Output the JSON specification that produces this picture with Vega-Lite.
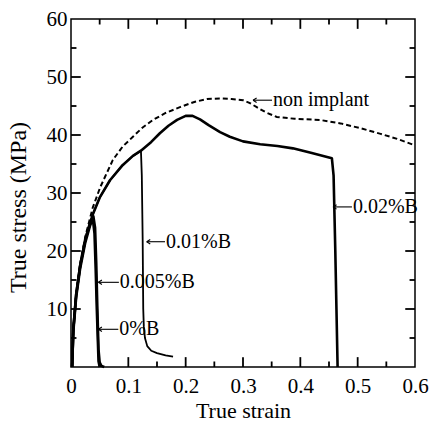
{
  "$schema": "https://vega.github.io/schema/vega-lite/v6.json",
  "width": 344,
  "height": 348,
  "autosize": {"type": "none"},
  "padding": {"left": 71, "top": 19, "right": 18, "bottom": 55},
  "config": {
    "view": {"stroke": "black", "strokeWidth": 1.5},
    "font": "Liberation Serif",
    "axis": {"grid": false, "labelFontSize": 21, "titleFontSize": 22, "titleFontWeight": "normal", "labelColor": "black", "titleColor": "black"}
  },
  "datasets": {
    "curves": [
      {"series": "non implant", "strain": 0.002, "stress": 0},
      {"series": "non implant", "strain": 0.004, "stress": 6.5},
      {"series": "non implant", "strain": 0.009, "stress": 12.5},
      {"series": "non implant", "strain": 0.016, "stress": 17.8},
      {"series": "non implant", "strain": 0.025, "stress": 22.5},
      {"series": "non implant", "strain": 0.038, "stress": 27.5},
      {"series": "non implant", "strain": 0.051, "stress": 31},
      {"series": "non implant", "strain": 0.073, "stress": 35.7},
      {"series": "non implant", "strain": 0.09, "stress": 38},
      {"series": "non implant", "strain": 0.108, "stress": 39.7},
      {"series": "non implant", "strain": 0.125, "stress": 41.3},
      {"series": "non implant", "strain": 0.143, "stress": 42.6},
      {"series": "non implant", "strain": 0.165, "stress": 43.8},
      {"series": "non implant", "strain": 0.19, "stress": 44.8},
      {"series": "non implant", "strain": 0.215, "stress": 45.7},
      {"series": "non implant", "strain": 0.237, "stress": 46.2},
      {"series": "non implant", "strain": 0.26, "stress": 46.3},
      {"series": "non implant", "strain": 0.28, "stress": 46.2},
      {"series": "non implant", "strain": 0.3, "stress": 46},
      {"series": "non implant", "strain": 0.312, "stress": 45.5},
      {"series": "non implant", "strain": 0.324, "stress": 44.8},
      {"series": "non implant", "strain": 0.34, "stress": 43.9},
      {"series": "non implant", "strain": 0.359, "stress": 43.1},
      {"series": "non implant", "strain": 0.39, "stress": 42.8},
      {"series": "non implant", "strain": 0.434, "stress": 42.6},
      {"series": "non implant", "strain": 0.47, "stress": 42},
      {"series": "non implant", "strain": 0.504, "stress": 41.2},
      {"series": "non implant", "strain": 0.54, "stress": 40.2},
      {"series": "non implant", "strain": 0.57, "stress": 39.3},
      {"series": "non implant", "strain": 0.6, "stress": 38.2},

      {"series": "0.02%B", "strain": 0.002, "stress": 0},
      {"series": "0.02%B", "strain": 0.004, "stress": 6.5},
      {"series": "0.02%B", "strain": 0.009, "stress": 12.5},
      {"series": "0.02%B", "strain": 0.016, "stress": 17.5},
      {"series": "0.02%B", "strain": 0.025, "stress": 22},
      {"series": "0.02%B", "strain": 0.038, "stress": 26.3},
      {"series": "0.02%B", "strain": 0.05, "stress": 29.2},
      {"series": "0.02%B", "strain": 0.068, "stress": 32.2},
      {"series": "0.02%B", "strain": 0.09, "stress": 34.8},
      {"series": "0.02%B", "strain": 0.108, "stress": 36.4},
      {"series": "0.02%B", "strain": 0.122, "stress": 37.3},
      {"series": "0.02%B", "strain": 0.14, "stress": 38.8},
      {"series": "0.02%B", "strain": 0.155, "stress": 40.3},
      {"series": "0.02%B", "strain": 0.17, "stress": 41.6},
      {"series": "0.02%B", "strain": 0.185, "stress": 42.6},
      {"series": "0.02%B", "strain": 0.2, "stress": 43.3},
      {"series": "0.02%B", "strain": 0.212, "stress": 43.3},
      {"series": "0.02%B", "strain": 0.225, "stress": 42.7},
      {"series": "0.02%B", "strain": 0.24, "stress": 41.7},
      {"series": "0.02%B", "strain": 0.26, "stress": 40.5},
      {"series": "0.02%B", "strain": 0.277, "stress": 39.7},
      {"series": "0.02%B", "strain": 0.3, "stress": 38.9},
      {"series": "0.02%B", "strain": 0.33, "stress": 38.4},
      {"series": "0.02%B", "strain": 0.36, "stress": 38.1},
      {"series": "0.02%B", "strain": 0.387, "stress": 37.7},
      {"series": "0.02%B", "strain": 0.42, "stress": 36.9},
      {"series": "0.02%B", "strain": 0.455, "stress": 36},
      {"series": "0.02%B", "strain": 0.458, "stress": 33},
      {"series": "0.02%B", "strain": 0.461, "stress": 20},
      {"series": "0.02%B", "strain": 0.463, "stress": 10},
      {"series": "0.02%B", "strain": 0.465, "stress": 0},

      {"series": "0.01%B", "strain": 0.002, "stress": 0},
      {"series": "0.01%B", "strain": 0.004, "stress": 6.5},
      {"series": "0.01%B", "strain": 0.009, "stress": 12.5},
      {"series": "0.01%B", "strain": 0.016, "stress": 17.5},
      {"series": "0.01%B", "strain": 0.025, "stress": 22},
      {"series": "0.01%B", "strain": 0.038, "stress": 26.3},
      {"series": "0.01%B", "strain": 0.05, "stress": 29.2},
      {"series": "0.01%B", "strain": 0.068, "stress": 32.2},
      {"series": "0.01%B", "strain": 0.09, "stress": 34.8},
      {"series": "0.01%B", "strain": 0.108, "stress": 36.4},
      {"series": "0.01%B", "strain": 0.122, "stress": 37.3},
      {"series": "0.01%B", "strain": 0.1235, "stress": 33},
      {"series": "0.01%B", "strain": 0.125, "stress": 22},
      {"series": "0.01%B", "strain": 0.126, "stress": 10},
      {"series": "0.01%B", "strain": 0.127, "stress": 7},
      {"series": "0.01%B", "strain": 0.129, "stress": 5},
      {"series": "0.01%B", "strain": 0.133, "stress": 3.6},
      {"series": "0.01%B", "strain": 0.14, "stress": 2.8},
      {"series": "0.01%B", "strain": 0.15, "stress": 2.4},
      {"series": "0.01%B", "strain": 0.165, "stress": 2},
      {"series": "0.01%B", "strain": 0.178, "stress": 1.8},

      {"series": "0.005%B", "strain": 0.002, "stress": 0},
      {"series": "0.005%B", "strain": 0.004, "stress": 6.5},
      {"series": "0.005%B", "strain": 0.009, "stress": 12.5},
      {"series": "0.005%B", "strain": 0.016, "stress": 17.5},
      {"series": "0.005%B", "strain": 0.025, "stress": 22},
      {"series": "0.005%B", "strain": 0.033, "stress": 24.8},
      {"series": "0.005%B", "strain": 0.039, "stress": 26},
      {"series": "0.005%B", "strain": 0.042, "stress": 24},
      {"series": "0.005%B", "strain": 0.044, "stress": 18},
      {"series": "0.005%B", "strain": 0.046, "stress": 10},
      {"series": "0.005%B", "strain": 0.048, "stress": 3},
      {"series": "0.005%B", "strain": 0.05, "stress": 0.8},
      {"series": "0.005%B", "strain": 0.053, "stress": 0.2},
      {"series": "0.005%B", "strain": 0.058, "stress": 0},

      {"series": "0%B", "strain": 0.002, "stress": 0},
      {"series": "0%B", "strain": 0.004, "stress": 6},
      {"series": "0%B", "strain": 0.009, "stress": 12},
      {"series": "0%B", "strain": 0.016, "stress": 17},
      {"series": "0%B", "strain": 0.025, "stress": 21.5},
      {"series": "0%B", "strain": 0.033, "stress": 24.3},
      {"series": "0%B", "strain": 0.038, "stress": 25.6},
      {"series": "0%B", "strain": 0.041, "stress": 23},
      {"series": "0%B", "strain": 0.043, "stress": 17},
      {"series": "0%B", "strain": 0.045, "stress": 10},
      {"series": "0%B", "strain": 0.047, "stress": 4},
      {"series": "0%B", "strain": 0.048, "stress": 1},
      {"series": "0%B", "strain": 0.05, "stress": 0}
    ],
    "notes": [
      {"label": "non implant", "tip": 0.3175, "start": 0.3506, "stress": 46.0},
      {"label": "0.02%B", "tip": 0.457, "start": 0.49, "stress": 27.6},
      {"label": "0.01%B", "tip": 0.132, "start": 0.164, "stress": 21.6},
      {"label": "0.005%B", "tip": 0.0477, "start": 0.0835, "stress": 14.6},
      {"label": "0%B", "tip": 0.0477, "start": 0.0825, "stress": 6.5}
    ],
    "xMajor": [{"pos": 0.1}, {"pos": 0.2}, {"pos": 0.3}, {"pos": 0.4}, {"pos": 0.5}],
    "xMinor": [{"pos": 0.05}, {"pos": 0.15}, {"pos": 0.25}, {"pos": 0.35}, {"pos": 0.45}, {"pos": 0.55}],
    "yMajor": [{"pos": 10}, {"pos": 20}, {"pos": 30}, {"pos": 40}, {"pos": 50}],
    "yMinor": [{"pos": 5}, {"pos": 15}, {"pos": 25}, {"pos": 35}, {"pos": 45}, {"pos": 55}]
  },
  "resolve": {"axis": {"x": "independent", "y": "independent"}},
  "layer": [
    {
      "data": {"name": "curves"},
      "transform": [{"filter": "datum.series === 'non implant'"}],
      "mark": {"type": "line", "color": "black", "strokeWidth": 2, "strokeDash": [5, 3], "strokeCap": "butt"},
      "encoding": {
        "x": {
          "field": "strain",
          "type": "quantitative",
          "scale": {"domain": [0, 0.6], "nice": false},
          "axis": {
            "orient": "bottom",
            "values": [0, 0.1, 0.2, 0.3, 0.4, 0.5, 0.6],
            "format": "~g",
            "domain": false,
            "ticks": false,
            "labelPadding": 8,
            "labelFlush": false,
            "title": "True strain",
            "titlePadding": 4
          }
        },
        "y": {
          "field": "stress",
          "type": "quantitative",
          "scale": {"domain": [0, 60], "nice": false},
          "axis": {
            "orient": "left",
            "values": [10, 20, 30, 40, 50, 60],
            "domain": false,
            "ticks": false,
            "labelPadding": 4,
            "labelFlush": false,
            "title": "True stress (MPa)",
            "titleFontSize": 24,
            "titlePadding": 16,
            "titleY": 188
          }
        },
        "detail": {"field": "series", "type": "nominal"}
      }
    },
    {
      "data": {"name": "curves"},
      "transform": [{"filter": "datum.series !== 'non implant' && datum.series !== '0.01%B'"}],
      "mark": {"type": "line", "color": "black", "strokeWidth": 2.6, "strokeCap": "butt", "strokeJoin": "round"},
      "encoding": {
        "x": {"field": "strain", "type": "quantitative", "axis": null},
        "y": {"field": "stress", "type": "quantitative", "axis": null},
        "detail": {"field": "series", "type": "nominal"}
      }
    },
    {
      "data": {"name": "curves"},
      "transform": [{"filter": "datum.series === '0.01%B'"}],
      "mark": {"type": "line", "color": "black", "strokeWidth": 1.8, "strokeCap": "butt", "strokeJoin": "round"},
      "encoding": {
        "x": {"field": "strain", "type": "quantitative", "axis": null},
        "y": {"field": "stress", "type": "quantitative", "axis": null}
      }
    },
    {
      "data": {"name": "notes"},
      "mark": {"type": "rule", "color": "black", "strokeWidth": 1.1},
      "encoding": {
        "x": {"field": "tip", "type": "quantitative", "axis": null},
        "x2": {"field": "start"},
        "y": {"field": "stress", "type": "quantitative", "axis": null}
      }
    },
    {
      "data": {"name": "notes"},
      "mark": {"type": "point", "shape": "M0,0L1.6,-1M0,0L1.6,1", "filled": false, "color": "black", "strokeWidth": 1.1, "size": 20, "opacity": 1},
      "encoding": {
        "x": {"field": "tip", "type": "quantitative", "axis": null},
        "y": {"field": "stress", "type": "quantitative", "axis": null}
      }
    },
    {
      "data": {"name": "notes"},
      "mark": {"type": "text", "align": "left", "baseline": "middle", "dx": 1, "fontSize": 20, "color": "black"},
      "encoding": {
        "x": {"field": "start", "type": "quantitative", "axis": null},
        "y": {"field": "stress", "type": "quantitative", "axis": null},
        "text": {"field": "label", "type": "nominal"}
      }
    },
    {
      "data": {"name": "xMajor"},
      "mark": {"type": "rule", "color": "black", "strokeWidth": 1.8, "opacity": 1},
      "encoding": {
        "x": {"field": "pos", "type": "quantitative", "axis": null},
        "y": {"datum": 0, "type": "quantitative", "axis": null},
        "y2": {"datum": 1.7}
      }
    },
    {
      "data": {"name": "xMinor"},
      "mark": {"type": "rule", "color": "black", "strokeWidth": 1.8, "opacity": 1},
      "encoding": {
        "x": {"field": "pos", "type": "quantitative", "axis": null},
        "y": {"datum": 0, "type": "quantitative", "axis": null},
        "y2": {"datum": 0.95}
      }
    },
    {
      "data": {"name": "xMajor"},
      "mark": {"type": "rule", "color": "black", "strokeWidth": 1.8, "opacity": 1},
      "encoding": {
        "x": {"field": "pos", "type": "quantitative", "axis": null},
        "y": {"datum": 60, "type": "quantitative", "axis": null},
        "y2": {"datum": 58.3}
      }
    },
    {
      "data": {"name": "xMinor"},
      "mark": {"type": "rule", "color": "black", "strokeWidth": 1.8, "opacity": 1},
      "encoding": {
        "x": {"field": "pos", "type": "quantitative", "axis": null},
        "y": {"datum": 60, "type": "quantitative", "axis": null},
        "y2": {"datum": 59.05}
      }
    },
    {
      "data": {"name": "yMajor"},
      "mark": {"type": "rule", "color": "black", "strokeWidth": 1.8, "opacity": 1},
      "encoding": {
        "y": {"field": "pos", "type": "quantitative", "axis": null},
        "x": {"datum": 0, "type": "quantitative", "axis": null},
        "x2": {"datum": 0.017}
      }
    },
    {
      "data": {"name": "yMinor"},
      "mark": {"type": "rule", "color": "black", "strokeWidth": 1.8, "opacity": 1},
      "encoding": {
        "y": {"field": "pos", "type": "quantitative", "axis": null},
        "x": {"datum": 0, "type": "quantitative", "axis": null},
        "x2": {"datum": 0.0095}
      }
    },
    {
      "data": {"name": "yMajor"},
      "mark": {"type": "rule", "color": "black", "strokeWidth": 1.8, "opacity": 1},
      "encoding": {
        "y": {"field": "pos", "type": "quantitative", "axis": null},
        "x": {"datum": 0.6, "type": "quantitative", "axis": null},
        "x2": {"datum": 0.583}
      }
    },
    {
      "data": {"name": "yMinor"},
      "mark": {"type": "rule", "color": "black", "strokeWidth": 1.8, "opacity": 1},
      "encoding": {
        "y": {"field": "pos", "type": "quantitative", "axis": null},
        "x": {"datum": 0.6, "type": "quantitative", "axis": null},
        "x2": {"datum": 0.5905}
      }
    }
  ]
}
